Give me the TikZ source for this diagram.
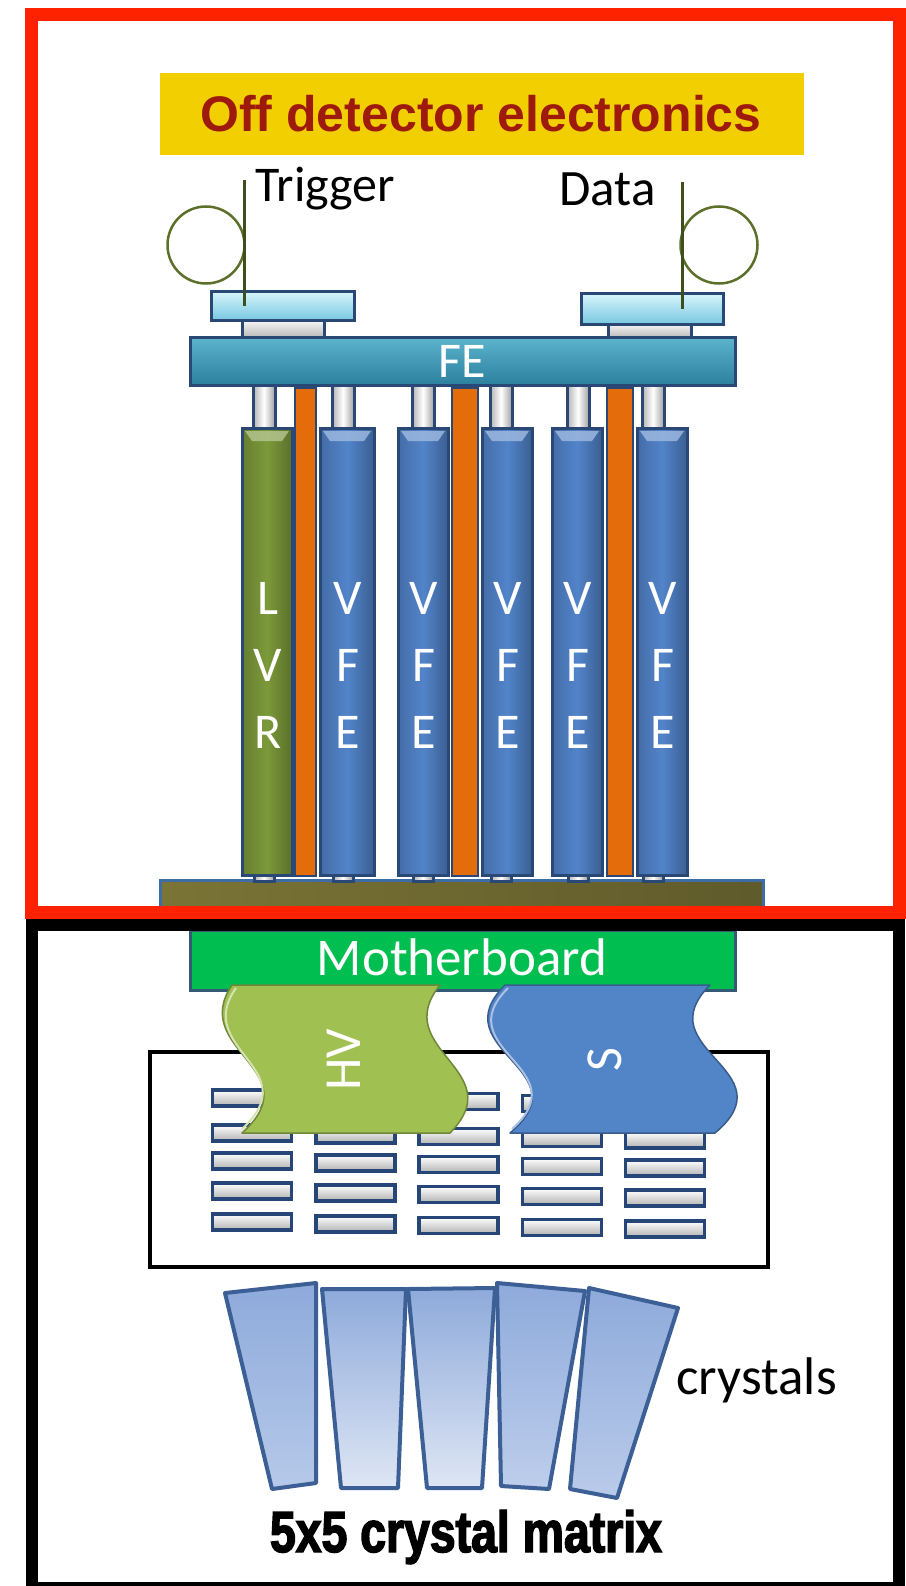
\documentclass[tikz,border=0pt]{standalone}
\usepackage{fontspec}
\setmainfont{Carlito}
\newfontfamily\titlefont{Liberation Sans}
\newfontfamily\condfont[FakeStretch=0.8,FakeBold=2.5]{Liberation Sans}
\usetikzlibrary{fit}

\definecolor{frred}{RGB}{255,34,0}
\definecolor{ybar}{RGB}{242,207,0}
\definecolor{ttl}{RGB}{158,26,12}
\definecolor{edgeblue}{RGB}{42,72,118}
\definecolor{slotedge}{RGB}{38,70,120}
\definecolor{feteal}{RGB}{52,142,170}
\definecolor{fetop}{RGB}{92,180,205}
\definecolor{febot}{RGB}{44,128,158}
\definecolor{linktop}{RGB}{215,245,252}
\definecolor{linkbot}{RGB}{120,200,225}
\definecolor{cardblue}{RGB}{82,132,202}
\definecolor{lvrgreen}{RGB}{124,154,58}
\definecolor{orng}{RGB}{228,108,10}
\definecolor{loopgreen}{RGB}{92,112,42}
\definecolor{stemgreen}{RGB}{62,78,28}
\definecolor{mbgreen}{RGB}{0,190,80}
\definecolor{mbedge}{RGB}{52,90,118}
\definecolor{hvgreen}{RGB}{160,192,82}
\definecolor{sblue}{RGB}{82,132,200}
\definecolor{crysedge}{RGB}{60,95,150}
\definecolor{crystop}{RGB}{142,170,219}
\definecolor{crysA}{RGB}{182,201,233}
\definecolor{crysB}{RGB}{222,230,244}
\definecolor{crysC}{RGB}{190,206,236}
\definecolor{crysD}{RGB}{186,203,234}
\definecolor{boardol}{RGB}{122,116,54}
\definecolor{boardedge}{RGB}{62,108,165}

\tikzset{
  edged/.style={draw=edgeblue, line width=3pt, inner sep=0pt, outer sep=0pt},
  cardbody/.style={edged, left color=#1!82!black, right color=#1!72!black, middle color=#1},
  tube/.style={edged, left color=gray!60, right color=gray!75, middle color=white},
  htube/.style={edged, top color=white, bottom color=gray!60},
  linkbox/.style={edged, top color=linktop, bottom color=linkbot},
  strip/.style={draw=edgeblue, line width=2pt, fill=orng, inner sep=0pt, outer sep=0pt},
  slot/.style={draw=slotedge, line width=3.5pt, top color=white, bottom color=gray!60,
    minimum width=79pt, minimum height=16pt, inner sep=0pt},
  cardtext/.style={text=white, font=\fontsize{50}{67}\selectfont, align=center},
  loopring/.style={draw=loopgreen, line width=2.5pt, circle, minimum size=77pt, inner sep=0pt},
  stem/.style={draw=stemgreen, line width=3pt},
  crystal/.style={draw=crysedge, line width=4pt, line join=round, top color=crystop, bottom color=#1},
  wave/.style={line width=1.5pt, line join=round},
}

\begin{document}
\begin{tikzpicture}[x=1pt,y=-1pt]
\useasboundingbox (0,0) rectangle (905,1586);

% ---------- off-detector banner ----------
\node[fill=ybar, inner sep=0pt, fit={(160,73) (804,155)}] (banner) {};
\node[text=ttl, font=\titlefont\bfseries\fontsize{50}{55}\selectfont] (title) at (481,114) {Off detector electronics};

% ---------- optical links ----------
\node[anchor=base west, font=\fontsize{50}{55}\selectfont] (trig) at (252,202) {Trigger};
\node[anchor=base west, font=\fontsize{51}{55}\selectfont] (data) at (556,206) {Data};
\node[loopring] (tloop) at (206,245) {};
\node[loopring] (dloop) at (719,245) {};

% link connectors on the FE board
\node[htube, fit={(242,318) (324,339)}] (tfoot) {};
\node[htube, fit={(608,322) (691,339)}] (dfoot) {};
\node[linkbox, fit={(211,292) (354,320)}] (tbox) {};
\node[linkbox, fit={(581,294) (723,324)}] (dbox) {};

\coordinate (ttop) at (244,180);
\coordinate (dtop) at (682,182);
\draw[stem] (ttop) -- (ttop |- tbox.center);
\draw[stem] (dtop) -- (dtop |- dbox.center);

% ---------- base board under the cards ----------
\node[draw=boardedge, line width=3pt, inner sep=0pt, left color=boardol, right color=boardol!78!black,
  fit={(160,880) (763,914)}] (base) {};

% ---------- card connectors (top and bottom) ----------
\foreach \c [count=\i] in {264,343,423,501,578,653}{
  \node[tube, fit={(\c-11,383) (\c+11,430)}] (plug\i) {};
  \node[tube, fit={(\c-10,872) (\c+10,881)}] (foot\i) {};
}

% ---------- orange spacers ----------
\foreach \l/\r [count=\i] in {295/316,452/478,607/633}{
  \node[strip, fit={(\l,388) (\r,876)}] (spacer\i) {};
}

% ---------- VFE and LVR cards ----------
\foreach \l/\r/\col/\txt [count=\i] in
  {242/292/lvrgreen/{L\\V\\R}, 320/374/cardblue/{V\\F\\E}, 398/448/cardblue/{V\\F\\E},
   482/532/cardblue/{V\\F\\E}, 552/602/cardblue/{V\\F\\E}, 637/687/cardblue/{V\\F\\E}}{
  \node[cardbody=\col, fit={(\l,428) (\r,875)}] (card\i) {};
  \fill[\col!55!white, opacity=0.8] (\l+3,431) -- (\r-3,431) -- (\r-10,441) -- (\l+10,441) -- cycle;
  \node[cardtext] (cardlbl\i) at ({(\l+\r)/2+1},665) {\txt};
}

% ---------- FE board ----------
\node[edged, top color=fetop, bottom color=febot, fit={(190,337) (735,385)}] (fe) {};
\node[text=white, font=\fontsize{50}{52}\selectfont] (felbl) at (fe.center) {FE};

% ---------- motherboard ----------
\node[fill=mbgreen, draw=mbedge, line width=3pt, inner sep=0pt, fit={(190,930) (735,990)}] (mb) {};
\node[text=white, font=\fontsize{53}{55}\selectfont] (mblbl) at (462,957) {Motherboard};

% ---------- crystal holder with APD slots ----------
\node[draw=black, line width=4pt, inner sep=0pt, fit={(150,1052) (768,1267)}] (holder) {};
\foreach \c in {0,...,4}{
  \foreach \r/\yy in {1/1098,2/1133,3/1161,4/1191,5/1222}{
    \node[slot] (slot\c\r) at ({252+103.3*\c},{\yy+1.75*\c}) {};
  }
}

% ---------- HV and signal flexes ----------
\path[wave, fill=hvgreen, draw=hvgreen!70!black]
  (232,985) -- (440,985)
  .. controls (388,1050) and (512,1070) .. (450,1133)
  -- (242,1133)
  .. controls (312,1070) and (188,1050) .. (232,985) -- cycle;
\path[wave, draw=hvgreen!45!white, line width=2pt]
  (242,1129) .. controls (308,1068) and (192,1050) .. (236,988);
\node[text=white, rotate=90, font=\fontsize{52}{55}\selectfont] (hvlbl) at (344,1060) {HV};

\path[wave, fill=sblue, draw=sblue!70!black]
  (505,985) -- (710,985)
  .. controls (645,1050) and (790,1070) .. (715,1133)
  -- (510,1133)
  .. controls (585,1070) and (440,1050) .. (505,985) -- cycle;
\path[wave, draw=sblue!50!white, line width=2pt]
  (512,1129) .. controls (580,1068) and (446,1050) .. (508,988);
\node[text=white, rotate=90, font=\fontsize{52}{55}\selectfont] (slbl) at (605,1060) {S};

% ---------- crystals ----------
\path[crystal=crysA] (225,1293) -- (316,1283) -- (316,1483) -- (272,1489) -- cycle;
\path[crystal=crysB] (322,1289) -- (406,1289) -- (398,1488) -- (341,1488) -- cycle;
\path[crystal=crysB] (408,1289) -- (495,1288) -- (482,1488) -- (427,1488) -- cycle;
\path[crystal=crysC] (497,1283) -- (585,1291) -- (549,1489) -- (501,1486) -- cycle;
\path[crystal=crysD] (589,1288) -- (678,1308) -- (617,1498) -- (570,1489) -- cycle;
\node[anchor=base west, font=\fontsize{53}{55}\selectfont] (cryslbl) at (673,1394) {crystals};

\node[anchor=base, font=\condfont\bfseries\fontsize{58}{60}\selectfont] (matrixlbl) at (466,1552) {5x5 crystal matrix};

% ---------- frames ----------
\draw[frred, line width=13pt] (31.5,14.5) rectangle (899,912.5);
\draw[black, line width=12pt] (31.5,924.5) rectangle (899,1588);
\end{tikzpicture}
\end{document}
